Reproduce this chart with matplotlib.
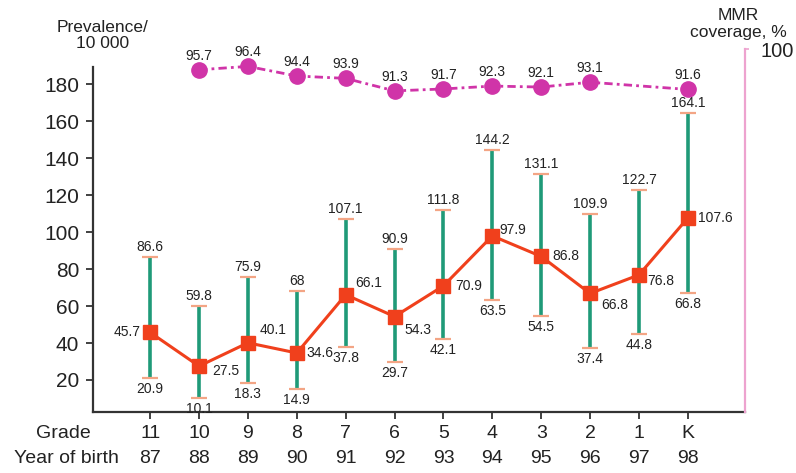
import numpy as np
import matplotlib
matplotlib.use("Agg")
import matplotlib.pyplot as plt
from matplotlib.transforms import blended_transform_factory

plt.rcParams["font.family"] = ["Liberation Sans", "DejaVu Sans"]

# ---- data -------------------------------------------------------------
grades = ["11", "10", "9", "8", "7", "6", "5", "4", "3", "2", "1", "K"]
birth_years = ["87", "88", "89", "90", "91", "92", "93", "94", "95", "96", "97", "98"]
prevalence = [45.7, 27.5, 40.1, 34.6, 66.1, 54.3, 70.9, 97.9, 86.8, 66.8, 76.8, 107.6]
ci_low = [20.9, 10.1, 18.3, 14.9, 37.8, 29.7, 42.1, 63.5, 54.5, 37.4, 44.8, 66.8]
ci_high = [86.6, 59.8, 75.9, 68, 107.1, 90.9, 111.8, 144.2, 131.1, 109.9, 122.7, 164.1]
mmr_coverage = [np.nan, 95.7, 96.4, 94.4, 93.9, 91.3, 91.7, 92.3, 92.1, 93.1, np.nan, 91.6]
left_ticks = [20, 40, 60, 80, 100, 120, 140, 160, 180]

# label placement for the prevalence points: (dx px, dy px, ha)
mean_label_pos = [(-10, 0, "right"), (13, -5, "left"), (12, 13, "left"), (10, 0, "left"),
                  (10, 12, "left"), (10, -13, "left"), (12, 0, "left"), (7, 6, "left"),
                  (11, 0, "left"), (11, -12, "left"), (8, -6, "left"), (10, 0, "left")]

GREEN = "#1f9a78"
CAP = "#f3a585"
RED = "#f0401c"
MAGENTA = "#d034a8"
PINK = "#eda3cf"
TXT = "#222222"
VAL_FS = 10

W, H = 796, 473
fig = plt.figure(figsize=(W / 100, H / 100), dpi=100)

ax_l, ax_r, ax_b, ax_t = 93, 745, 412, 40
ax = fig.add_axes([ax_l / W, 1 - ax_b / H, (ax_r - ax_l) / W, (ax_b - ax_t) / H])

x = np.arange(len(grades))
ax.set_xlim(-1.17, 12.17)
ax.set_ylim(2.7, 203.8)

# confidence interval bars
ax.vlines(x, ci_low, ci_high, color=GREEN, lw=2.6, zorder=3)
ax.plot(x, ci_high, ls="none", marker="_", ms=11, mew=1.6, color=CAP, zorder=3)
ax.plot(x, ci_low, ls="none", marker="_", ms=11, mew=1.6, color=CAP, zorder=3)

# prevalence line
ax.plot(x, prevalence, color=RED, lw=2.2, marker="s", ms=10.5, mfc=RED, mec=RED, zorder=4)

for i in range(len(x)):
    dx, dy, ha = mean_label_pos[i]
    ax.annotate(f"{prevalence[i]:g}", (x[i], prevalence[i]), xytext=(dx, dy),
                textcoords="offset pixels", ha=ha, va="center", fontsize=VAL_FS, color=TXT, zorder=6)
    ax.annotate(f"{ci_high[i]:g}", (x[i], ci_high[i]), xytext=(0, 10),
                textcoords="offset pixels", ha="center", va="center", fontsize=VAL_FS, color=TXT)
    ax.annotate(f"{ci_low[i]:g}", (x[i], ci_low[i]), xytext=(0, -11),
                textcoords="offset pixels", ha="center", va="center", fontsize=VAL_FS, color=TXT)

# axes styling
for s in ("top", "right"):
    ax.spines[s].set_visible(False)
ax.spines["left"].set_bounds(2.7, 189)
for s in ("left", "bottom"):
    ax.spines[s].set_linewidth(1.6)
    ax.spines[s].set_color("#333333")
ax.set_yticks(left_ticks)
ax.tick_params(axis="y", length=5, width=1.3, pad=5, labelsize=15, colors="#333333", labelcolor=TXT)
ax.set_xticks(x)
ax.set_xticklabels([])
ax.tick_params(axis="x", length=5, width=1.3, colors="#333333")

# MMR coverage on the right axis
ax2 = ax.twinx()
ax2.set_ylim(24.4, 101.9)
mmr = np.array(mmr_coverage)
ok = ~np.isnan(mmr)
ax2.plot(x[ok], mmr[ok], color=MAGENTA, lw=2.0, ls=(0, (3, 1.5, 1, 1.5)),
         marker="o", ms=11, mfc=MAGENTA, mec=MAGENTA, zorder=5)
for i in np.where(ok)[0]:
    ax2.annotate(f"{mmr[i]:g}", (x[i], mmr[i]), xytext=(0, 14), textcoords="offset pixels",
                 ha="center", va="center", fontsize=VAL_FS, color=TXT)
for s in ("top", "left", "bottom"):
    ax2.spines[s].set_visible(False)
ax2.spines["right"].set_color(PINK)
ax2.spines["right"].set_linewidth(1.6)
ax2.spines["right"].set_bounds(24.4, 100)
ax2.set_yticks([100])
ax2.tick_params(axis="y", length=3, width=1.2, colors=PINK, labelcolor=TXT, labelsize=14.5, pad=8)

# category rows beneath the axis
tr = blended_transform_factory(ax.transData, fig.transFigure)
for i in range(len(x)):
    ax.text(x[i], 1 - 433 / H, grades[i], transform=tr, ha="center", va="center",
            fontsize=14, color=TXT)
    ax.text(x[i], 1 - 458 / H, birth_years[i], transform=tr, ha="center", va="center",
            fontsize=14, color=TXT)
fig.text(63 / W, 1 - 433 / H, "Grade", ha="center", va="center", fontsize=14, color=TXT)
fig.text(66 / W, 1 - 458 / H, "Year of birth", ha="center", va="center", fontsize=14, color=TXT)

# axis titles
fig.text(103 / W, 1 - 27 / H, "Prevalence/", ha="center", va="center", fontsize=12.5, color=TXT)
fig.text(103 / W, 1 - 43 / H, "10 000", ha="center", va="center", fontsize=12.5, color=TXT)
fig.text(738 / W, 1 - 15 / H, "MMR", ha="center", va="center", fontsize=12.5, color=TXT)
fig.text(738 / W, 1 - 33 / H, "coverage, %", ha="center", va="center", fontsize=12.5, color=TXT)

fig.savefig("out.png", dpi=100)
